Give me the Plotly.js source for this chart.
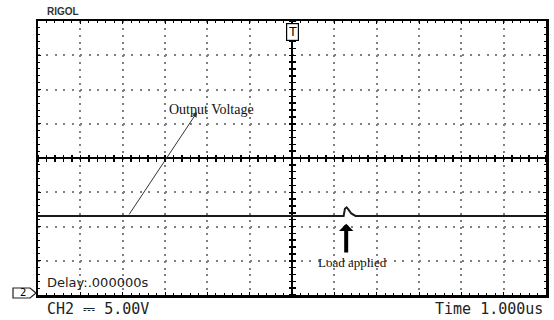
<!DOCTYPE html>
<html>
<head>
<meta charset="utf-8">
<script src="https://cdn.plot.ly/plotly-3.0.1.min.js"></script>
<style>html,body{margin:0;padding:0;background:#fff;}#chart{width:554px;height:320px;}</style>
</head>
<body>
<div id="chart"></div>
<script>
// Oscilloscope capture: time in microseconds (1 us/div), CH2 in volts (5 V/div)
const time_us = [-6, 1.22, 1.25, 1.29, 1.33, 1.40, 1.50, 6];
const ch2_V   = [-8.45, -8.45, -7.4, -7.2, -7.5, -8.1, -8.45, -8.45];

const labelOutput = "Output Voltage";
const labelLoad = "Load applied";
const ch2Text = "CH2 \u2393 5.00V";
const timeText = "Time 1.000us";
const delayText = "Delay:.000000s";
const brandText = "RIGOL";

const xRange = [-6, 6];
const yRange = [-20, 20];

const traces = [
  {x: time_us, y: ch2_V, type: 'scatter', mode: 'lines',
   line: {color: '#1a1a1a', width: 2}, hoverinfo: 'skip', showlegend: false},
  {x: time_us, y: ch2_V, xaxis: 'x2', yaxis: 'y2', type: 'scatter', mode: 'lines',
   line: {width: 0}, opacity: 0, hoverinfo: 'skip', showlegend: false},
  {x: time_us, y: ch2_V, xaxis: 'x3', yaxis: 'y3', type: 'scatter', mode: 'lines',
   line: {width: 0}, opacity: 0, hoverinfo: 'skip', showlegend: false}
];

const gridCol = '#808080';
const centerTickX = side => ({
  overlaying: 'x', anchor: 'free', position: 0.5, side: side, range: xRange,
  dtick: 0.2, tick0: 0, ticks: 'outside', ticklen: 3, tickwidth: 1.5, tickcolor: '#000',
  showticklabels: false, showgrid: false, zeroline: false, showline: false, fixedrange: true
});
const centerTickY = side => ({
  overlaying: 'y', anchor: 'free', position: 0.5, side: side, range: yRange,
  dtick: 1, tick0: 0, ticks: 'outside', ticklen: 3, tickwidth: 1.5, tickcolor: '#000',
  showticklabels: false, showgrid: false, zeroline: false, showline: false, fixedrange: true
});

const layout = {
  width: 554, height: 320,
  margin: {l: 38, r: 8, t: 21, b: 25, pad: 0},
  paper_bgcolor: '#ffffff', plot_bgcolor: '#ffffff',
  showlegend: false,
  xaxis: {
    range: xRange, dtick: 1, tick0: 0,
    showgrid: true, gridcolor: gridCol, gridwidth: 2, griddash: '2px,4.85px',
    zeroline: true, zerolinecolor: '#000', zerolinewidth: 2,
    showline: true, linecolor: '#000', linewidth: 2.5, mirror: 'ticks',
    ticks: 'inside', ticklen: 3, tickcolor: '#000',
    minor: {dtick: 0.2, ticks: 'inside', ticklen: 2, tickcolor: '#000'},
    showticklabels: false, fixedrange: true
  },
  yaxis: {
    range: yRange, dtick: 5, tick0: 0,
    showgrid: true, gridcolor: gridCol, gridwidth: 2, griddash: '2px,6.47px',
    zeroline: true, zerolinecolor: '#000', zerolinewidth: 2,
    showline: true, linecolor: '#000', linewidth: 2.5, mirror: 'ticks',
    ticks: 'inside', ticklen: 3, tickcolor: '#000',
    minor: {dtick: 1, ticks: 'inside', ticklen: 2, tickcolor: '#000'},
    showticklabels: false, fixedrange: true
  },
  xaxis2: centerTickX('bottom'),
  xaxis3: centerTickX('top'),
  yaxis2: centerTickY('left'),
  yaxis3: centerTickY('right'),
  shapes: [
    {type: 'path', xref: 'paper', yref: 'paper',
     path: 'M -0.0492 0.0255 L -0.0157 0.0255 L -0.0039 0.0073 L -0.0157 -0.0109 L -0.0492 -0.0109 Z',
     line: {color: '#222', width: 1.2}, fillcolor: '#fff'}
  ],
  annotations: [
    {text: '', x: -2.24, y: 6.7, ax: -3.87, ay: -8.45, axref: 'x', ayref: 'y',
     showarrow: true, arrowhead: 2, arrowsize: 1, arrowwidth: 1, arrowcolor: '#333', standoff: 0},
    {text: labelOutput, x: -1.91, y: 7.15, showarrow: false, xanchor: 'center', yanchor: 'middle',
     font: {family: 'Liberation Serif', size: 14, color: '#111'}},
    {text: '', x: 1.28, y: -9.6, ax: 1.28, ay: -14.0, axref: 'x', ayref: 'y',
     showarrow: true, arrowhead: 1, arrowsize: 0.6, arrowwidth: 4, arrowcolor: '#000', standoff: 0},
    {text: labelLoad, x: 1.44, y: -15.2, showarrow: false, xanchor: 'center', yanchor: 'middle',
     font: {family: 'Liberation Serif', size: 13, color: '#111'}},
    {text: 'T', x: 0, xref: 'x', y: 1, yref: 'paper', yanchor: 'top', yshift: -2, showarrow: false,
     font: {family: 'DejaVu Sans', size: 12, color: '#000'},
     bordercolor: '#000', borderwidth: 1.2, borderpad: 1, bgcolor: '#fff'},
    {text: '2', x: -0.029, xref: 'paper', y: 0.0073, yref: 'paper', xanchor: 'center', yanchor: 'middle',
     showarrow: false, font: {family: 'DejaVu Sans', size: 10, color: '#000'}},
    {text: ch2Text, x: 0.0138, xref: 'paper', y: -0.051, yref: 'paper', xanchor: 'left', yanchor: 'middle',
     showarrow: false, font: {family: 'DejaVu Sans Mono', size: 15, color: '#222'}},
    {text: timeText, x: 0.998, xref: 'paper', y: -0.051, yref: 'paper', xanchor: 'right', yanchor: 'middle',
     showarrow: false, font: {family: 'DejaVu Sans Mono', size: 15, color: '#222'}},
    {text: delayText, x: 0.0138, xref: 'paper', y: 0.0438, yref: 'paper', xanchor: 'left', yanchor: 'middle',
     showarrow: false, font: {family: 'DejaVu Sans', size: 13, color: '#222'}},
    {text: '<b>' + brandText + '</b>', x: 0.0138, xref: 'paper', y: 1.033, yref: 'paper', xanchor: 'left', yanchor: 'middle',
     showarrow: false, font: {family: 'Liberation Sans', size: 10, color: '#333'}}
  ]
};

Plotly.newPlot('chart', traces, layout, {displayModeBar: false, staticPlot: true});
</script>
</body>
</html>
